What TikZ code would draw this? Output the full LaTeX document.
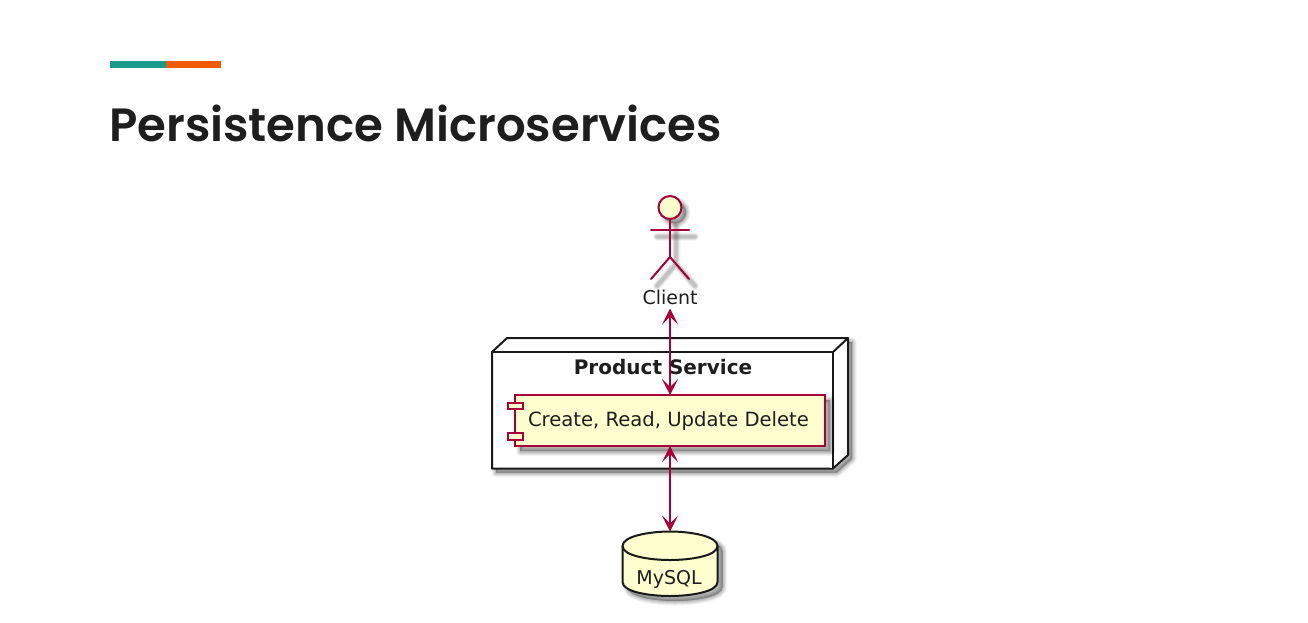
\documentclass[tikz,border=0pt]{standalone}
\usepackage{fontspec}
\setmainfont{DejaVu Sans}
\newfontfamily\titlefont{Poppins SemiBold}
\usetikzlibrary{arrows.meta}
\definecolor{umlred}{HTML}{A80036}
\definecolor{umlfill}{HTML}{FEFECE}
\definecolor{teal}{HTML}{1A9A8A}
\definecolor{orng}{HTML}{F05A00}
\definecolor{ink}{HTML}{1E1E1E}
\newcommand{\softshadow}[3]{%
  \foreach \w/\o in {9/.03,7/.04,6/.04,5/.05,4/.05,3/.05}{%
    \path[shift={(#1,#2)},draw=black,line join=round,line cap=round,line width=\w pt,draw opacity=\o,#3;}%
}
\newcommand{\softfill}[3]{%
  \foreach \w/\o in {9/.05,7/.06,5/.07,3/.08,1/.09}{%
    \path[shift={(#1,#2)},draw=none,fill=black,line join=round,fill opacity=.06,#3;%
    \path[shift={(#1,#2)},draw=black,line join=round,line width=\w pt,draw opacity=\o,#3;}%
}
\tikzset{
  x=1pt,y=-1pt,
  umlline/.style={draw=umlred,line width=2pt},
  umlbox/.style={draw=umlred,fill=umlfill,line width=2pt},
  nodebox/.style={draw=black!90,fill=white,line width=2pt,line join=round},
  dbbox/.style={draw=black!90,fill=umlfill,line width=2pt},
  label/.style={font=\fontsize{19}{22}\selectfont,text=ink,inner sep=0pt,outer sep=0pt},
  link/.style={draw=umlred,line width=1.5pt,{Stealth[length=16pt,width=16pt,inset=8pt,fill=umlred]}-{Stealth[length=16pt,width=16pt,inset=8pt,fill=umlred]}},
}
\begin{document}
\begin{tikzpicture}
\useasboundingbox[fill=white] (0,0) rectangle (1308,622);
% accent and title
\fill[teal] (110,61) rectangle (166,67.5);
\fill[orng] (166,61) rectangle (221,67.5);
\node[anchor=base west,inner sep=0pt,font=\titlefont\fontsize{46.6}{56}\selectfont,text=ink] (title) at (109,141) {Persistence Microservices};
% actor shadow
\softfill{5}{5}{] (670,207.5) circle[radius=11]}
\softshadow{6}{7}{] (651,229.5) -- (689,229.5)}
\softshadow{6}{7}{] (670,219) -- (670,257) (651,279) -- (670,257) -- (689,279)}
% actor
\draw[umlbox] (670,207.5) circle[radius=11.5];
\draw[umlline,line cap=round] (670,219) -- (670,257);
\draw[umlline,line cap=round] (651,229.5) -- (689,229.5);
\draw[umlline,line cap=round,line join=round] (651,279) -- (670,257) -- (689,279);
\node[label,minimum height=22pt] (client) at (670,297.5) {Client};
% product service node
\softfill{4}{4}{] (492,352) -- (507,338) -- (848,338) -- (848,455) -- (833,468.5) -- (492,468.5) -- cycle}
\draw[nodebox] (492,352) -- (507,338) -- (848,338) -- (848,455) -- (833,468.5) -- (492,468.5) -- cycle;
\draw[nodebox] (492,352) -- (833,352) -- (833,468.5);
\draw[nodebox] (833,352) -- (848,338);
\node[label,font=\bfseries\fontsize{20}{24}\selectfont,text=ink] (ps) at (663,367) {Product Service};
% component
\softfill{5}{5}{] (515,395) rectangle (825,446)}
\node[umlbox,anchor=north west,minimum width=310pt,minimum height=51pt,inner sep=0pt,outer sep=0pt] (comp) at (515,395) {};
\draw[umlbox] (507.5,402.5) rectangle (522.5,409);
\draw[umlbox] (507.5,433) rectangle (522.5,439.5);
\node[label,font=\fontsize{19.6}{22}\selectfont] (complabel) at (668.5,421.5) {Create, Read, Update Delete};
% database
\softfill{5}{5}{] (622.5,546) .. controls (622.5,536) and (650,531.5) .. (670,531.5) .. controls (690,531.5) and (717.5,536) .. (717.5,546) -- (717.5,582) .. controls (717.5,592) and (690,596) .. (670,596) .. controls (650,596) and (622.5,592) .. (622.5,582) -- cycle}
\draw[dbbox] (622.5,546) .. controls (622.5,536) and (650,531.5) .. (670,531.5) .. controls (690,531.5) and (717.5,536) .. (717.5,546) -- (717.5,582) .. controls (717.5,592) and (690,596) .. (670,596) .. controls (650,596) and (622.5,592) .. (622.5,582) -- cycle;
\draw[draw=black!90,line width=2pt] (622.5,546) .. controls (622.5,556) and (650,560) .. (670,560) .. controls (690,560) and (717.5,556) .. (717.5,546);
\coordinate (dbtop) at (670,531.5);
\node[label] (db) at (669,579.5) {MySQL};
% connectors
\draw[link] (client.south) -- (comp.north);
\draw[link] (comp.south) -- (dbtop);
\end{tikzpicture}
\end{document}
